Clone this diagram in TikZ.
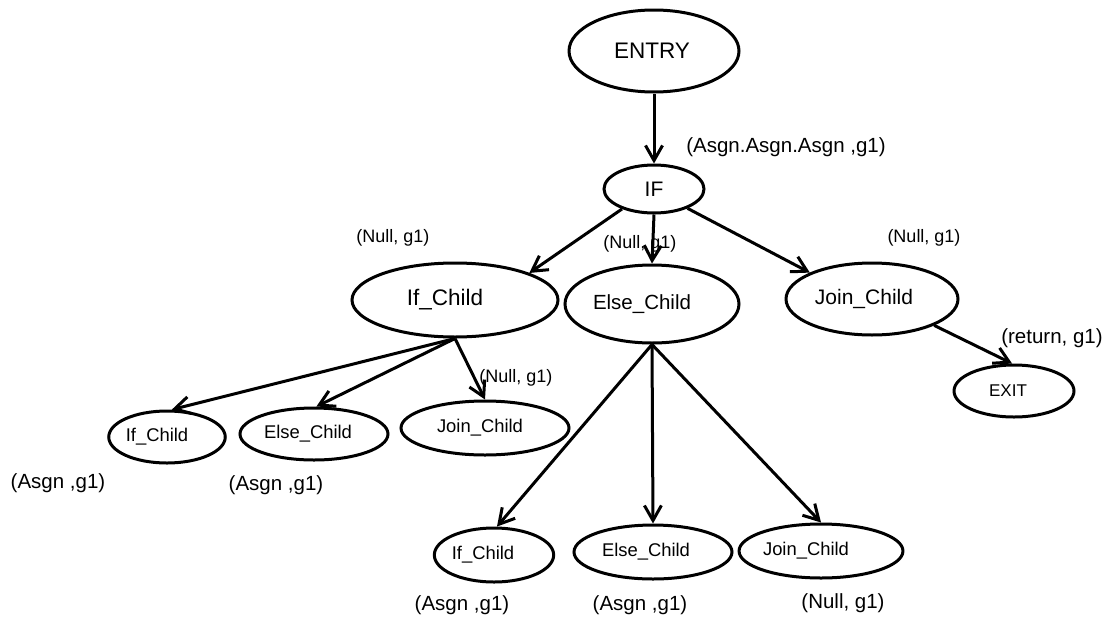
\documentclass[tikz,border=0pt]{standalone}
\usepackage{fontspec}
\setmainfont{Liberation Sans}
\usetikzlibrary{shapes.geometric,arrows.meta}
\newcommand\padr[1]{\hspace*{#1pt}}
\newcommand\fs[1]{\fontsize{#1}{#1}\selectfont}
\begin{document}
\begin{tikzpicture}[x=1pt,y=-1pt,
  oval/.style args={#1/#2}{ellipse, draw, line width=3pt, inner sep=0pt,
    minimum width=#1pt, minimum height=#2pt},
  lbl/.style={inner sep=0pt, font=\fs{20.5}},
  lbls/.style={inner sep=0pt, font=\fs{18}},
  edge/.style={line width=3pt, -{Straight Barb[length=15pt,width=17pt]}}]
\useasboundingbox (0,0) rectangle (1113,621);

% nodes of the tree
\node[oval=170/82] (entry) at (654,51)  {\fs{22.5}ENTRY\padr{4}};
\node[oval=100/48] (if)    at (654,189) {\fs{21}IF};
\node[oval=206/74] (ifc)   at (455,300) {\fs{22.5}If\_Child\padr{20}};
\node[oval=174/78] (elc)   at (652,304) {\fs{20.5}Else\_Child\padr{20}};
\node[oval=172/72] (jnc)   at (872,299) {\fs{21}Join\_Child\padr{16}};
\node[oval=120/52] (exit)  at (1014,391) {\fs{17}EXIT\padr{12}};

\node[oval=112/52] (sif) at (167,437) {\fs{18.4}If\_Child\padr{20}};
\node[oval=148/52] (sel) at (314,434) {\fs{18.4}Else\_Child\padr{12}};
\node[oval=168/54] (sjn) at (485,428) {\fs{18.4}Join\_Child\padr{10}};

\node[oval=114/54] (bif) at (494,555) {\fs{18.4}If\_Child\padr{22}};
\node[oval=158/54] (bel) at (653,552) {\fs{18.4}Else\_Child\padr{14}};
\node[oval=144/54] (bjn) at (821,551) {\fs{18.4}Join\_Child\padr{30}};

% edge labels
\node[lbl]  (l0)  at (786,147) {(Asgn.Asgn.Asgn ,g1)};
\node[lbls] (l1)  at (393,238) {(Null, g1)};
\node[lbls] (l2)  at (640,244) {(Null, g1)};
\node[lbls] (l3)  at (924,238) {(Null, g1)};
\node[lbl]  (l4)  at (1052,338) {(return, g1)};
\node[lbls] (l5)  at (516,378) {(Null, g1)};
\node[lbl]  (l6)  at (58,483)  {(Asgn ,g1)};
\node[lbl]  (l7)  at (276,485) {(Asgn ,g1)};
\node[lbl]  (l8)  at (462,605) {(Asgn ,g1)};
\node[lbl]  (l9)  at (640,605) {(Asgn ,g1)};
\node[lbl]  (l10) at (843,603) {(Null, g1)};

% connectors
\draw[edge] (entry.south) -- (if.north);
\draw[edge] (if.212) -- (ifc.20);
\draw[edge] (if.south) -- (elc.north);
\draw[edge] (if.330) -- (jnc.157);
\draw[edge] (jnc.337) -- (exit.94);

\draw[edge] (ifc.south) -- (sif.80);
\draw[edge] (ifc.south) -- (sel.85);
\draw[edge] (ifc.south) -- (sjn.north);

\draw[edge] (elc.south) -- (bif.84);
\draw[edge] (elc.south) -- (bel.north);
\draw[edge] (elc.south) -- (bjn.north);
\end{tikzpicture}
\end{document}
